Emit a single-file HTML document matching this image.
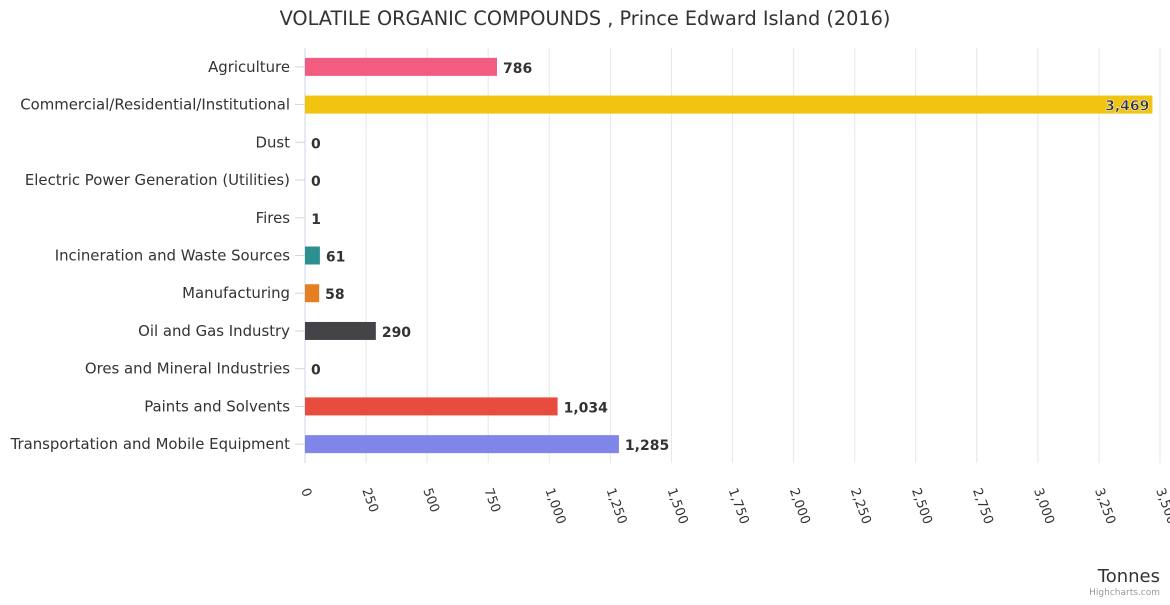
<!DOCTYPE html>
<html><head><meta charset="utf-8"><style>
html,body{margin:0;padding:0;background:#fff}
svg text{font-family:"DejaVu Sans","Liberation Sans",sans-serif}
</style></head><body>
<svg id="chart" width="1170" height="600" xmlns="http://www.w3.org/2000/svg">
<text x="585" y="25" text-anchor="middle" font-size="19.3" fill="#333">VOLATILE ORGANIC COMPOUNDS , Prince Edward Island (2016)</text>
<g id="grid"></g><g id="bars"></g><g id="labels"></g>
<text x="1160" y="582" text-anchor="end" font-size="18" fill="#333">Tonnes</text>
<text x="1160" y="595" text-anchor="end" font-size="9" fill="#999">Highcharts.com</text>
</svg>
<script>
const categories=["Agriculture","Commercial/Residential/Institutional","Dust","Electric Power Generation (Utilities)","Fires","Incineration and Waste Sources","Manufacturing","Oil and Gas Industry","Ores and Mineral Industries","Paints and Solvents","Transportation and Mobile Equipment"];
const values=[786,3469,0,0,1,61,58,290,0,1034,1285];
const colors=["#f15c80","#f1c40f","#2b908f","#8085e9","#e4d354","#2b908f","#e67e22","#434348","#90ed7d","#e74c3c","#8085e9"];
const ticks=[0,250,500,750,1000,1250,1500,1750,2000,2250,2500,2750,3000,3250,3500];
const NS="http://www.w3.org/2000/svg";
const L=305,R=1160,T=48,B=463,MAX=3500;
const x=v=>L+v/MAX*(R-L);
const band=(B-T)/categories.length;
const y=i=>T+band*(i+0.5);
function mk(t,a,p){const e=document.createElementNS(NS,t);for(const k in a)e.setAttribute(k,a[k]);p.appendChild(e);return e;}
const fmt=v=>v.toLocaleString("en-US");
const g=document.getElementById("grid"),bg=document.getElementById("bars"),lg=document.getElementById("labels");
ticks.forEach(t=>{
  const l=mk("line",{x1:x(t),x2:x(t),y1:T,y2:B,stroke:"#e6e6e6","stroke-width":1},g);
  
  
  const tx=mk("text",{x:x(t)-4,y:B+27,"font-size":13,fill:"#333",transform:`rotate(70 ${x(t)-4} ${B+27})`},g);
  tx.textContent=fmt(t);
  
  
});
const ax=mk("line",{x1:L,x2:L,y1:T,y2:B,stroke:"#ccd6eb","stroke-width":1},g);


categories.forEach((c,i)=>{
  const tk=mk("line",{x1:L-10,x2:L,y1:y(i),y2:y(i),stroke:"#ccd6eb"},g);
  
  
  const t=mk("text",{x:L-15,y:y(i)+5,"text-anchor":"end","font-size":14.9,fill:"#333"},lg);
  t.textContent=c;
  
  
  const w=x(values[i])-L;
  const r=mk("rect",{x:L,y:y(i)-9,width:Math.max(w,0),height:18,fill:colors[i]},bg);
  
  
  const inside=x(values[i])+60>R+10;
  const v=mk("text",{x:inside?x(values[i])-3:x(values[i])+6,y:y(i)+6,"text-anchor":inside?"end":"start","font-size":14,"font-weight":"bold",fill:"#333",stroke:inside?"#fff":"none","stroke-width":inside?0.5:0},lg);
  v.textContent=fmt(values[i]);
  
  
});
</script>
</body></html>
